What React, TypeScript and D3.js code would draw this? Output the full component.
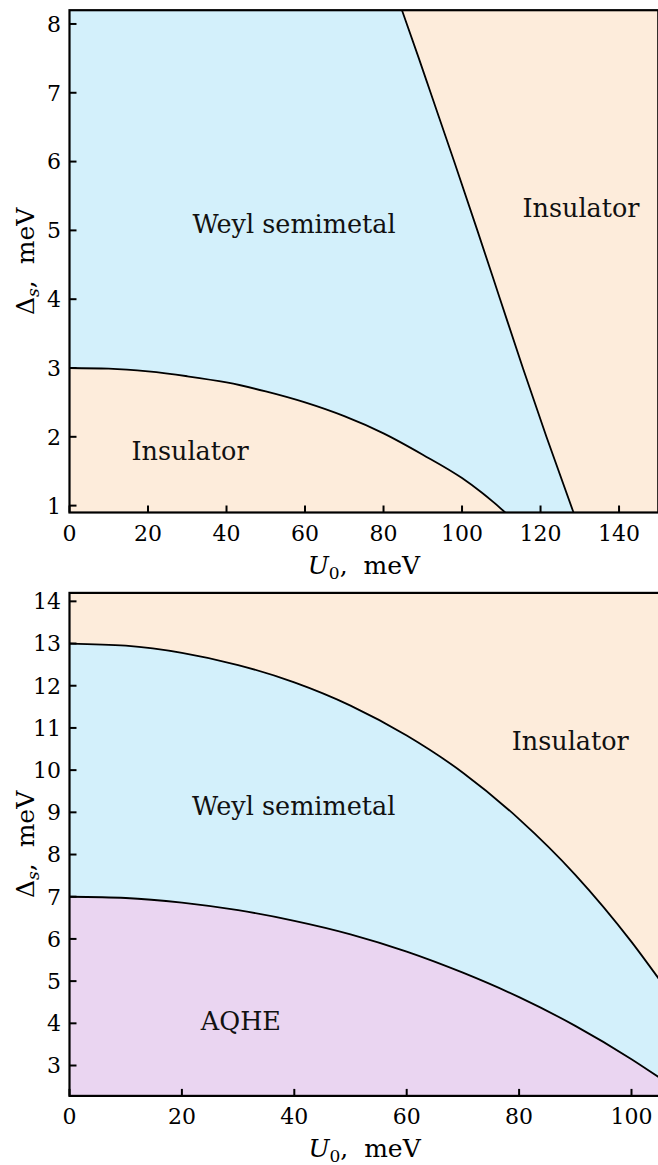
import * as d3 from "d3";

// top panel: boundaries  (U0 in meV, Δs in meV)
const topLowerU = [0, 10, 20, 30, 40, 50, 60, 70, 80, 90, 100, 105, 108, 111];
const topLowerD = [3.0, 2.99, 2.95, 2.88, 2.79, 2.66, 2.5, 2.3, 2.05, 1.74, 1.4, 1.19, 1.05, 0.9];
const topSteepU = [84.7, 89.0, 92.0, 98.0, 103.9, 109.7, 115.5, 121.5, 128.4];
const topSteepD = [8.2, 7.5, 7.0, 6.0, 5.0, 4.0, 3.0, 2.0, 0.9];

// bottom panel
const botUpperU = [0, 10, 20, 30, 40, 50, 60, 70, 80, 90, 100, 105];
const botUpperD = [13.0, 12.95, 12.78, 12.49, 12.08, 11.53, 10.82, 9.94, 8.84, 7.52, 5.93, 5.03];
const botLowerU = [0, 10, 20, 30, 40, 50, 60, 70, 80, 90, 100, 105];
const botLowerD = [7.0, 6.97, 6.86, 6.68, 6.43, 6.11, 5.7, 5.2, 4.62, 3.94, 3.15, 2.71];

const topXTicks = [0, 20, 40, 60, 80, 100, 120, 140];
const topYTicks = [1, 2, 3, 4, 5, 6, 7, 8];
const botXTicks = [0, 20, 40, 60, 80, 100];
const botYTicks = [3, 4, 5, 6, 7, 8, 9, 10, 11, 12, 13, 14];

const BLUE = "#d3f0fb";
const PEACH = "#fdecdb";
const PURPLE = "#ead5f1";
const FONT = "DejaVu Serif";

type P = [number, number];
const zip = (u: number[], d: number[]): P[] => u.map((v, i) => [v, d[i]]);

function Axes({ x, y, xTicks, yTicks }: any) {
  const [x0, x1] = x.range();
  const [y0, y1] = y.range(); // y0 bottom, y1 top
  return (
    <g fontFamily={FONT}>
      {xTicks.map((t: number) => (
        <g key={"x" + t}>
          <line x1={x(t)} x2={x(t)} y1={y0} y2={y0 - 7} stroke="#000" strokeWidth={2} />
          <text x={x(t)} y={y0 + 28} textAnchor="middle" fontSize={22}>{t}</text>
        </g>
      ))}
      {yTicks.map((t: number) => (
        <g key={"y" + t}>
          <line x1={x0} x2={x0 + 7} y1={y(t)} y2={y(t)} stroke="#000" strokeWidth={2} />
          <text x={61} y={y(t)} dy="0.36em" textAnchor="end" fontSize={22}>{t}</text>
        </g>
      ))}
      <rect x={x0} y={y1} width={x1 - x0} height={y0 - y1} fill="none" stroke="#000" strokeWidth={2.2} />
      <text x={(x0 + x1) / 2} y={y0 + 61} textAnchor="middle" fontSize={25} xmlSpace="preserve">
        <tspan fontStyle="italic">U</tspan>
        <tspan fontSize={17} dy={5}>0</tspan>
        <tspan dy={-5}>,  meV</tspan>
      </text>
      <text transform={`translate(34,${(y0 + y1) / 2}) rotate(-90)`} textAnchor="middle" fontSize={25} xmlSpace="preserve">
        <tspan>Δ</tspan>
        <tspan fontSize={17} fontStyle="italic" dy={5}>s</tspan>
        <tspan dy={-5}>,  meV</tspan>
      </text>
    </g>
  );
}

function Label({ x, y, u, d, text }: any) {
  return (
    <text x={x(u)} y={y(d)} textAnchor="middle" fontSize={25.5} fontFamily={FONT} fill="#111">{text}</text>
  );
}

export default function App() {
  // ---- top panel
  const xT = d3.scaleLinear().domain([0, 150]).range([69.5, 658.3]);
  const yT = d3.scaleLinear().domain([0.9, 8.2]).range([512.5, 10.2]);
  const lineTx = d3.line<P>().x(p => xT(p[0])).y(p => yT(p[1])).curve(d3.curveMonotoneX);
  const lineTy = d3.line<P>().x(p => xT(p[0])).y(p => yT(p[1])).curve(d3.curveMonotoneY);
  const lower = zip(topLowerU, topLowerD);
  const steep = zip(topSteepU, topSteepD);
  // weyl region: lower curve, along bottom, up the steep line, back across the top
  const weylPath =
    lineTx(lower)! +
    "L" + lineTy(steep.slice().reverse())!.slice(1) +
    `L${xT(0)},${yT(8.2)}Z`;

  // ---- bottom panel
  const xB = d3.scaleLinear().domain([0, 105]).range([69.5, 659.6]);
  const yB = d3.scaleLinear().domain([2.28, 14.2]).range([1095.9, 592.9]);
  const lineB = d3.line<P>().x(p => xB(p[0])).y(p => yB(p[1])).curve(d3.curveMonotoneX);
  const areaB = d3.area<P>().x(p => xB(p[0])).y0(yB(2.28)).y1(p => yB(p[1])).curve(d3.curveMonotoneX);
  const upper = zip(botUpperU, botUpperD);
  const low2 = zip(botLowerU, botLowerD);

  return (
    <svg width={658} height={1165} style={{ position: "absolute", left: 0, top: 0, background: "#fff" }}>
      <defs>
        <clipPath id="cT"><rect x={xT(0)} y={yT(8.2)} width={xT(150) - xT(0)} height={yT(0.9) - yT(8.2)} /></clipPath>
        <clipPath id="cB"><rect x={xB(0)} y={yB(14.2)} width={xB(105) - xB(0)} height={yB(2.28) - yB(14.2)} /></clipPath>
      </defs>

      <g clipPath="url(#cT)">
        <rect x={xT(0)} y={yT(8.2)} width={xT(150) - xT(0)} height={yT(0.9) - yT(8.2)} fill={PEACH} />
        <path d={weylPath} fill={BLUE} />
        <path d={lineTx(lower)!} fill="none" stroke="#000" strokeWidth={1.8} />
        <path d={lineTy(steep)!} fill="none" stroke="#000" strokeWidth={1.8} />
      </g>
      <Label x={xT} y={yT} u={57.2} d={4.96} text="Weyl semimetal" />
      <Label x={xT} y={yT} u={130.3} d={5.19} text="Insulator" />
      <Label x={xT} y={yT} u={30.7} d={1.66} text="Insulator" />
      <Axes x={xT} y={yT} xTicks={topXTicks} yTicks={topYTicks} />

      <g clipPath="url(#cB)">
        <rect x={xB(0)} y={yB(14.2)} width={xB(105) - xB(0)} height={yB(2.28) - yB(14.2)} fill={PEACH} />
        <path d={areaB(upper)!} fill={BLUE} />
        <path d={areaB(low2)!} fill={PURPLE} />
        <path d={lineB(upper)!} fill="none" stroke="#000" strokeWidth={1.8} />
        <path d={lineB(low2)!} fill="none" stroke="#000" strokeWidth={1.8} />
      </g>
      <Label x={xB} y={yB} u={89.1} d={10.48} text="Insulator" />
      <Label x={xB} y={yB} u={39.9} d={8.94} text="Weyl semimetal" />
      <Label x={xB} y={yB} u={30.5} d={3.84} text="AQHE" />
      <Axes x={xB} y={yB} xTicks={botXTicks} yTicks={botYTicks} />
    </svg>
  );
}
